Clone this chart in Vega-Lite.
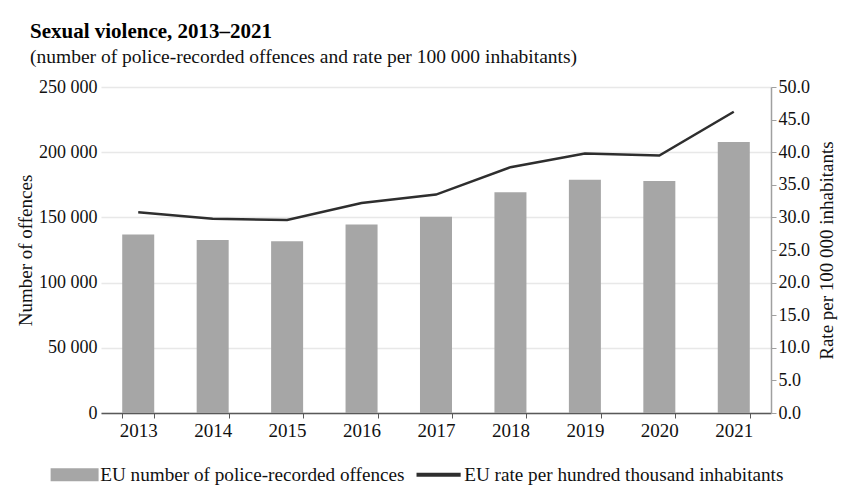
{
  "$schema": "https://vega.github.io/schema/vega-lite/v6.json",
  "width": 670,
  "height": 326,
  "autosize": {"type": "none"},
  "padding": {"left": 101, "top": 87, "right": 74, "bottom": 89},
  "background": "white",
  "config": {
    "font": "Liberation Serif",
    "view": {"stroke": null}
  },
  "title": {
    "text": "Sexual violence, 2013–2021",
    "subtitle": "(number of police-recorded offences and rate per 100 000 inhabitants)",
    "anchor": "start",
    "frame": "group",
    "dx": -71,
    "offset": 12,
    "font": "Liberation Serif",
    "fontSize": 21,
    "fontWeight": "bold",
    "color": "#000000",
    "subtitleFont": "Liberation Serif",
    "subtitleFontSize": 19.5,
    "subtitleColor": "#111111",
    "subtitlePadding": 6
  },
  "data": {
    "values": [
      {"year": "2013", "offences": 136800, "rate": 30.8},
      {"year": "2014", "offences": 132700, "rate": 29.8},
      {"year": "2015", "offences": 131800, "rate": 29.6},
      {"year": "2016", "offences": 144600, "rate": 32.2},
      {"year": "2017", "offences": 150500, "rate": 33.5},
      {"year": "2018", "offences": 169200, "rate": 37.7},
      {"year": "2019", "offences": 178900, "rate": 39.8},
      {"year": "2020", "offences": 177900, "rate": 39.5},
      {"year": "2021", "offences": 207900, "rate": 46.2}
    ]
  },
  "encoding": {
    "x": {
      "field": "year",
      "type": "ordinal",
      "scale": {"paddingInner": 0.57, "paddingOuter": 0.285},
      "axis": {
        "title": null,
        "labelAngle": 0,
        "labelFont": "Liberation Serif",
        "labelFontSize": 19,
        "labelColor": "#111111",
        "labelPadding": 3,
        "domainColor": "#595959",
        "domainWidth": 1.5,
        "tickColor": "#595959",
        "tickSize": 5,
        "tickBand": "extent",
        "grid": false
      }
    }
  },
  "layer": [
    {
      "mark": {"type": "bar"},
      "encoding": {
        "y": {
          "field": "offences",
          "type": "quantitative",
          "scale": {"domain": [0, 250000]},
          "axis": {
            "orient": "left",
            "title": "Number of offences",
            "titleFont": "Liberation Serif",
            "titleFontSize": 19,
            "titleFontWeight": "normal",
            "titleColor": "#111111",
            "titlePadding": 3,
            "values": [0, 50000, 100000, 150000, 200000, 250000],
            "labelExpr": "replace(format(datum.value, ','), ',', ' ')",
            "labelFont": "Liberation Serif",
            "labelFontSize": 18,
            "labelColor": "#111111",
            "labelPadding": 4,
            "domain": false,
            "ticks": false,
            "grid": true,
            "gridColor": "#e8e8e8",
            "gridWidth": 1.5
          }
        },
        "color": {
          "datum": "EU number of police-recorded offences",
          "type": "nominal",
          "scale": {
            "domain": ["EU number of police-recorded offences", "EU rate per hundred thousand inhabitants"],
            "range": ["#a6a6a6", "#2e2e2e"]
          },
          "legend": {
            "title": null,
            "orient": "none",
            "direction": "horizontal",
            "legendX": -36,
            "legendY": 378,
            "columnPadding": 3,
            "labelOffset": 16,
            "labelLimit": 0,
            "labelFont": "Liberation Serif",
            "labelFontSize": 19.2,
            "labelColor": "#111111",
            "symbolSize": 2300,
            "encode": {
              "symbols": {
                "update": {
                  "shape": {"signal": "datum.value == 'EU number of police-recorded offences' ? 'M-1,-0.27H1V0.27H-1Z' : 'stroke'"},
                  "size": {"signal": "datum.value == 'EU number of police-recorded offences' ? 2300 : 1950"},
                  "strokeWidth": {"signal": "datum.value == 'EU number of police-recorded offences' ? 0 : 4"},
                  "fill": {"signal": "datum.value == 'EU number of police-recorded offences' ? '#a6a6a6' : '#000000'"},
                  "stroke": {"signal": "datum.value == 'EU number of police-recorded offences' ? '#a6a6a6' : '#000000'"},
                  "opacity": {"value": 1},
                  "fillOpacity": {"value": 1},
                  "strokeOpacity": {"value": 1}
                }
              }
            }
          }
        }
      }
    },
    {
      "mark": {"type": "line", "strokeWidth": 2.5},
      "encoding": {
        "y": {
          "field": "rate",
          "type": "quantitative",
          "scale": {"domain": [0, 50]},
          "axis": {
            "orient": "right",
            "title": "Rate per 100 000 inhabitants",
            "titleAngle": 270,
            "titleBaseline": "top",
            "titleFont": "Liberation Serif",
            "titleFontSize": 19,
            "titleFontWeight": "normal",
            "titleColor": "#111111",
            "titlePadding": 8,
            "values": [0, 5, 10, 15, 20, 25, 30, 35, 40, 45, 50],
            "format": ".1f",
            "labelFont": "Liberation Serif",
            "labelFontSize": 18,
            "labelColor": "#111111",
            "labelPadding": 2,
            "domain": true,
            "domainColor": "#a0a0a0",
            "domainWidth": 1.5,
            "ticks": true,
            "tickColor": "#a0a0a0",
            "tickSize": 5,
            "grid": false
          }
        },
        "color": {"datum": "EU rate per hundred thousand inhabitants", "type": "nominal"}
      }
    }
  ],
  "resolve": {"scale": {"y": "independent"}}
}
